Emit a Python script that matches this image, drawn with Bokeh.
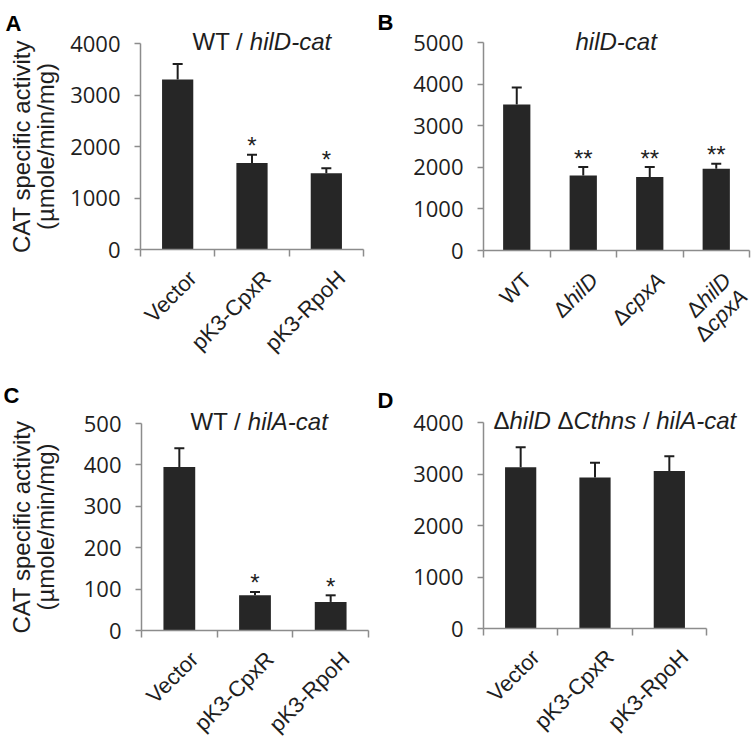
import math
from bokeh.plotting import figure
from bokeh.models import Range1d, FixedTicker, Label, ColumnDataSource, Whisker, TeeHead
from bokeh.layouts import column, row
from bokeh.embed import file_html
from bokeh.resources import INLINE

# ---------------- data ----------------
# "_" toggles italic in label / title strings
a_title = "WT / _hilD-cat_"
a_categories = ["Vector", "pK3-CpxR", "pK3-RpoH"]
a_means = [3300, 1680, 1480]
a_errors = [300, 160, 100]
a_signif = ["", "*", "*"]
a_yticks = [0, 1000, 2000, 3000, 4000]

b_title = "_hilD-cat_"
b_categories = ["WT", "Δ_hilD_", "Δ_cpxA_", "Δ_hilD_\nΔ_cpxA_"]
b_means = [3510, 1800, 1765, 1965]
b_errors = [410, 205, 240, 120]
b_signif = ["", "**", "**", "**"]
b_yticks = [0, 1000, 2000, 3000, 4000, 5000]

c_title = "WT / _hilA-cat_"
c_categories = ["Vector", "pK3-CpxR", "pK3-RpoH"]
c_means = [395, 85, 69]
c_errors = [45, 8, 16]
c_signif = ["", "*", "*"]
c_yticks = [0, 100, 200, 300, 400, 500]

d_title = "Δ_hilD_ Δ_Cthns_ / _hilA-cat_"
d_categories = ["Vector", "pK3-CpxR", "pK3-RpoH"]
d_means = [3130, 2930, 3060]
d_errors = [390, 290, 285]
d_signif = ["", "", ""]
d_yticks = [0, 1000, 2000, 3000, 4000]

y_label_lines = ["CAT specific activity", "(µmole/min/mg)"]

# ---------------- style ----------------
FONT = "Liberation Sans"
NUM_FONT = "Open Sans"
TXT = "#1e1e1e"
AXIS = "#8c8c8c"
BAR = "#262626"

WID = {' ': .278, '/': .278, '-': .333, '(': .333, ')': .333, 'Δ': .667, 'µ': .576,
       'A': .667, 'C': .722, 'D': .722, 'H': .722, 'K': .667, 'R': .722, 'T': .611,
       'V': .667, 'W': .944, 'a': .556, 'c': .5, 'e': .556, 'f': .278, 'g': .556,
       'h': .556, 'i': .222, 'l': .222, 'm': .833, 'n': .556, 'o': .556, 'p': .556,
       'r': .333, 's': .5, 't': .278, 'v': .5, 'x': .5, 'y': .5}


def tw(s, size):
    return sum(WID.get(ch, 0.556) for ch in s) * size


def runs(s):
    return [(t, k % 2 == 1) for k, t in enumerate(s.split("_")) if t]


C45 = math.cos(math.pi / 4)


def make_panel(letter, title, cats, means, errs, signif, yticks, width, height,
               borders, bar_width, title_dx, title_dy, letter_dx, letter_dy,
               ylabel_dx, cat_off, line_gap=23.0):
    n = len(cats)
    ymax = yticks[-1]
    left, right, top, bottom = borders
    # the frame fills the whole figure; the data box sits inside it at these pixel margins
    wd = width - left - right
    hd = height - top - bottom
    ux = n / wd
    uy = ymax / hd
    p = figure(width=width, height=height,
               x_range=Range1d(-left * ux, n + right * ux),
               y_range=Range1d(-bottom * uy, ymax + top * uy),
               output_backend="svg", toolbar_location=None,
               min_border_left=0, min_border_right=0,
               min_border_top=0, min_border_bottom=0,
               outline_line_color=None, background_fill_color="white",
               border_fill_color="white")
    p.xgrid.visible = False
    p.ygrid.visible = False

    xs = [k + 0.5 for k in range(n)]
    src = ColumnDataSource(dict(x=xs, top=means,
                                upper=[m + e for m, e in zip(means, errs)]))
    p.vbar(x="x", top="top", width=bar_width, source=src,
           fill_color=BAR, line_color=None)
    p.add_layout(Whisker(source=src, base="x", lower="top", upper="upper",
                         line_color=TXT, line_width=2,
                         upper_head=TeeHead(size=10, line_color=TXT, line_width=2),
                         lower_head=None))

    xa = p.xaxis[0]
    xa.fixed_location = 0
    xa.bounds = (0, n)
    xa.ticker = FixedTicker(ticks=[], minor_ticks=list(range(n + 1)))
    xa.major_tick_line_color = None
    xa.minor_tick_out = 7
    xa.minor_tick_in = 0
    xa.minor_tick_line_color = AXIS
    xa.minor_tick_line_width = 1.5
    xa.axis_line_color = AXIS
    xa.axis_line_width = 1.5

    ya = p.yaxis[0]
    ya.fixed_location = 0
    ya.bounds = (0, ymax)
    ya.ticker = FixedTicker(ticks=yticks)
    ya.major_label_text_font = NUM_FONT
    ya.major_label_text_font_size = "22px"
    ya.major_label_text_color = TXT
    ya.major_label_standoff = 14
    ya.major_tick_out = 6
    ya.major_tick_in = 0
    ya.minor_tick_line_color = None
    ya.axis_line_color = AXIS
    ya.major_tick_line_color = AXIS
    ya.axis_line_width = 1.5
    ya.major_tick_line_width = 1.5

    # panel letter
    p.add_layout(Label(x=0, y=ymax, x_offset=letter_dx, y_offset=letter_dy, text=letter,
                       text_font=FONT, text_font_size="22px", text_font_style="bold",
                       text_color="black", text_align="left", text_baseline="alphabetic"))

    # title (mixed upright / italic); spaces are advanced explicitly
    cx = title_dx
    for t, it in runs(title):
        lead = len(t) - len(t.lstrip(" "))
        trail = len(t) - len(t.rstrip(" "))
        core = t.strip(" ")
        cx += tw(" " * lead, 24)
        if core:
            p.add_layout(Label(x=0, y=ymax, x_offset=cx, y_offset=title_dy, text=core,
                               text_font=FONT, text_font_size="24px",
                               text_font_style="italic" if it else "normal",
                               text_color=TXT, text_align="left",
                               text_baseline="alphabetic"))
        cx += tw(core, 24) + tw(" " * trail, 24)

    # y axis label
    if ylabel_dx is not None:
        for line, dx in zip(y_label_lines, ylabel_dx):
            p.add_layout(Label(x=0, y=ymax / 2, x_offset=dx, text=line, angle=math.pi / 2,
                               text_font=FONT, text_font_size="24px", text_color=TXT,
                               text_align="center", text_baseline="alphabetic"))

    # rotated category labels (lines right-aligned at their end)
    bx, by = cat_off
    for k, cat in enumerate(cats):
        for li, line in enumerate(cat.split("\n")):
            ex = bx + li * line_gap * C45
            ey = by + li * line_gap * C45
            acc = 0.0
            for t, it in reversed(runs(line)):
                p.add_layout(Label(x=xs[k], y=0, x_offset=ex - acc * C45,
                                   y_offset=-(ey + acc * C45), text=t, angle=math.pi / 4,
                                   text_font=FONT, text_font_size="22px",
                                   text_font_style="italic" if it else "normal",
                                   text_color=TXT, text_align="right",
                                   text_baseline="alphabetic"))
                acc += tw(t, 22)

    # significance marks
    for k, s in enumerate(signif):
        if s:
            p.add_layout(Label(x=xs[k], y=means[k] + errs[k], y_offset=9, text=s,
                               text_font=FONT, text_font_size="24px", text_color=TXT,
                               text_align="center", text_baseline="alphabetic"))
    return p


pA = make_panel("A", a_title, a_categories, a_means, a_errors, a_signif, a_yticks,
                376, 378, (140, 13, 43, 129), 0.42, 52, 2, -135, 20,
                (-119.5, -95), (15, 25))
pB = make_panel("B", b_title, b_categories, b_means, b_errors, b_signif, b_yticks,
                377, 378, (107, 4, 42, 128), 0.41, 92, 1, -106, 20,
                None, (11, 26))
pC = make_panel("C", c_title, c_categories, c_means, c_errors, c_signif, c_yticks,
                376, 362, (141, 8, 45, 110), 0.42, 49, 2, -138, 28,
                (-120.5, -96), (15, 25))
pD = make_panel("D", d_title, d_categories, d_means, d_errors, d_signif, d_yticks,
                377, 362, (107, 47, 44, 112), 0.42, 10, 2, -106, 22,
                None, (15, 25))

layout = column(row(pA, pB), row(pC, pD))
open("out.html", "w").write(file_html(layout, INLINE))
